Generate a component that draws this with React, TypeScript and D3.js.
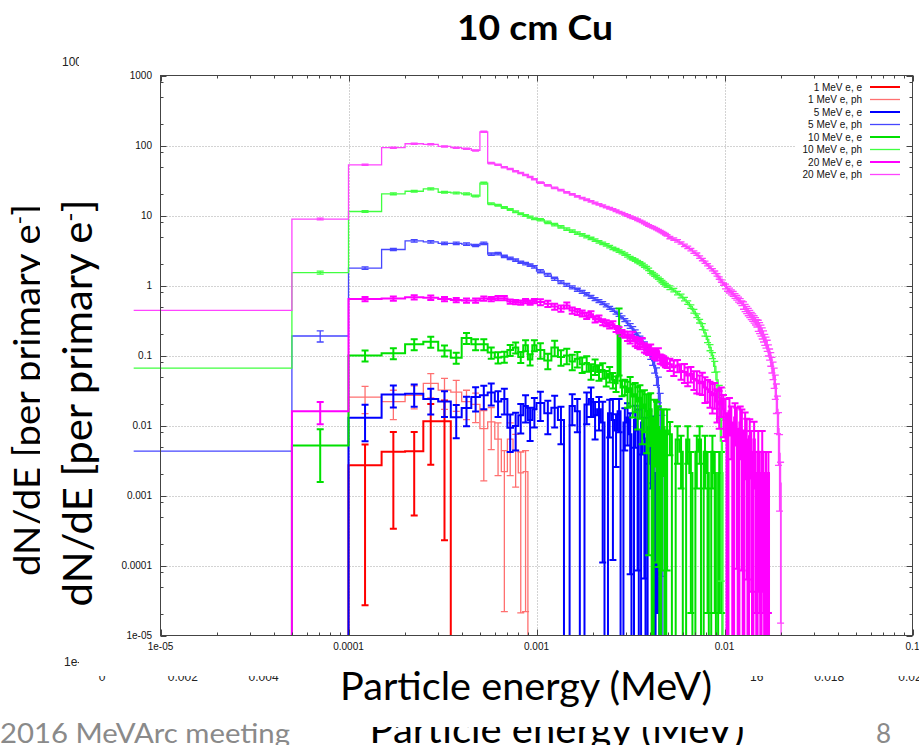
import React from 'react';
import * as d3 from 'd3';

// Histogram bin edges (MeV): 50 eV bins up to 1 keV, 100 eV up to 5 keV, 250 eV up to 20 keV
const EDGES: number[] = [
  ...d3.range(0, 20).map((i) => i * 5e-5),
  ...d3.range(0, 40).map((i) => 1e-3 + i * 1e-4),
  ...d3.range(0, 61).map((i) => 5e-3 + i * 2.5e-4),
];
// energy at which the step of the lowest (0 – 50 eV) bin is drawn from
const ZERO_EDGE_DRAWN = 7.2e-6;

// dN/dE per bin, and relative statistical error per bin
const E1_E = [0, 0, 0.0027, 0.0042, 0.0043, 0.0115, 0.0115];
const E1_E_ERR = [0, 0, 0.99, 0.92, 0.88, 0.76, 0.98];

const E1_PH = [0, 0, 0.0255, 0.022, 0.027, 0.04, 0.032, 0.03, 0.022, 0.02, 0.009, 0.0113, 0.0064, 0.0022, 0.0064, 0.0044, 0.0021, 0.0022];
const E1_PH_ERR = [0, 0, 0.42, 0.45, 0.36, 0.38, 0.47, 0.47, 0.45, 0.45, 0.82, 0.6, 0.7, 0.99, 0.7, 0.7, 0.99, 0.99];

const E5_E = [
  0, 0, 0.0129, 0.0277, 0.0285, 0.024, 0.022, 0.0131, 0.0178, 0.0255, 0.027, 0.0296, 0.022, 0.024, 0.0093, 0.0098, 0.014, 0.019, 0.012, 0.017,
  0.021, 0.015, 0.018, 0.012, 0, 0.019, 0.016, 0, 0.02, 0.024, 0.014, 0.017, 0.011, 0, 0.015, 0.012, 0.0085, 0.016, 0, 0.011,
  0.013, 0.0075, 0, 0.012, 0.0085, 0, 0.011, 0.0065, 0, 0.0095, 0.0042, 0.0075, 0, 0.0021, 0.0021,
];
const E5_E_ERR = [
  0, 0, 0.54, 0.35, 0.35, 0.4, 0.4, 0.5, 0.45, 0.38, 0.37, 0.35, 0.4, 0.4, 0.55, 0.55, 0.45, 0.42, 0.5, 0.45,
  0.45, 0.5, 0.48, 0.55, 0, 0.47, 0.5, 0, 0.48, 0.45, 0.55, 0.5, 0.99, 0, 0.55, 0.99, 0.7, 0.5, 0, 0.6,
  0.6, 0.99, 0, 0.6, 0.99, 0, 0.65, 0.99, 0, 0.7, 0.7, 0.8, 0, 0.99, 0.99,
];

const E5_PH = [
  0.0043, 0.19, 1.77, 3.27, 4.35, 4.2, 4.0, 4.0, 3.9, 3.73, 4.0, 2.8, 2.85, 2.6, 2.45, 2.3, 2.15, 2.05, 1.95, 1.85,
  1.6, 1.42, 1.25, 1.12, 1.02, 0.94, 0.87, 0.81, 0.75, 0.69, 0.64, 0.6, 0.56, 0.52, 0.48, 0.45, 0.41, 0.38, 0.35, 0.32,
  0.29, 0.265, 0.24, 0.215, 0.195, 0.175, 0.16, 0.145, 0.13, 0.115, 0.1, 0.085, 0.07, 0.052, 0.035, 0.018, 0.007,
];
const E5_PH_ERR = [
  0, 0.18, 0.04, 0.04, 0.04, 0.04, 0.04, 0.04, 0.04, 0.04, 0.04, 0.04, 0.04, 0.04, 0.04, 0.04, 0.04, 0.04, 0.04, 0.04,
  0.05, 0.05, 0.05, 0.05, 0.05, 0.05, 0.05, 0.05, 0.05, 0.05, 0.05, 0.05, 0.05, 0.05, 0.05, 0.05, 0.05, 0.05, 0.05, 0.05,
  0.08, 0.08, 0.08, 0.08, 0.08, 0.08, 0.08, 0.08, 0.08, 0.08, 0.12, 0.15, 0.2, 0.28, 0.4, 0.6, 0.99,
];

const E10_E = [
  0, 0.0052, 0.1, 0.108, 0.145, 0.157, 0.118, 0.093, 0.178, 0.145, 0.145, 0.11, 0.094, 0.096, 0.12, 0.13, 0.095, 0.14, 0.088, 0.14,
  0.12, 0.085, 0.13, 0.095, 0.1, 0.082, 0.09, 0.075, 0.078, 0.06, 0.07, 0.058, 0.062, 0.048, 0.055, 0.045, 0.04, 0.26, 0.035, 0.036,
  0.03, 0.034, 0.026, 0.028, 0.022, 0.025, 0.018, 0.02, 0.016, 0.014, 0.017, 0, 0.013, 0.011, 0.0095, 0, 0.0085, 0.0095, 0, 0.0085,
  0.0075, 0, 0.0063, 0.0042, 0, 0.0063, 0.0021, 0, 0.0042, 0.0063, 0, 0.0042, 0.0021, 0, 0.0042, 0.0021, 0, 0.0021, 0.0021,
];
const E10_E_ERR = [
  0, 0.7, 0.18, 0.18, 0.18, 0.18, 0.18, 0.18, 0.18, 0.18, 0.18, 0.18, 0.18, 0.18, 0.18, 0.18, 0.18, 0.18, 0.18, 0.18,
  0.25, 0.25, 0.25, 0.25, 0.25, 0.25, 0.25, 0.25, 0.25, 0.25, 0.25, 0.25, 0.25, 0.25, 0.25, 0.25, 0.25, 0.8, 0.25, 0.25,
  0.4, 0.45, 0.5, 0.45, 0.6, 0.5, 0.7, 0.6, 0.75, 0.99, 0.7, 0, 0.8, 0.99, 0.99, 0, 0.99, 0.8, 0, 0.99,
  0.5, 0, 0.55, 0.7, 0, 0.55, 0.99, 0, 0.7, 0.55, 0, 0.7, 0.99, 0, 0.7, 0.99, 0, 0.99, 0.99,
];

const E10_PH = [
  0.066, 1.53, 11.4, 20.4, 22.2, 24, 21.5, 21, 20.4, 19, 29, 14.7, 14, 13, 12.2, 11.3, 10.6, 10, 9.5, 9.0,
  8.7, 8.0, 7.4, 6.9, 6.4, 6.0, 5.6, 5.3, 5.0, 4.7, 4.45, 4.2, 4.0, 3.8, 3.6, 3.4, 3.25, 3.1, 2.95, 2.8,
  2.65, 2.5, 2.4, 2.3, 2.2, 2.1, 2.0, 1.9, 1.8, 1.7, 1.55, 1.48, 1.41, 1.34, 1.27, 1.2, 1.14, 1.08, 1.03, 0.98,
  0.93, 0.86, 0.78, 0.71, 0.64, 0.57, 0.5, 0.43, 0.37, 0.31, 0.26, 0.21, 0.17, 0.13, 0.1, 0.07, 0.045, 0.025, 0.006,
];
const E10_PH_ERR = [
  0, 0.05, 0.03, 0.03, 0.03, 0.03, 0.03, 0.03, 0.03, 0.03, 0.03, 0.03, 0.03, 0.03, 0.03, 0.03, 0.03, 0.03, 0.03, 0.03,
  0.04, 0.04, 0.04, 0.04, 0.04, 0.04, 0.04, 0.04, 0.04, 0.04, 0.04, 0.04, 0.04, 0.04, 0.04, 0.04, 0.04, 0.04, 0.04, 0.04,
  0.04, 0.04, 0.04, 0.04, 0.04, 0.04, 0.04, 0.04, 0.04, 0.04, 0.04, 0.04, 0.04, 0.04, 0.04, 0.04, 0.04, 0.04, 0.04, 0.04,
  0.06, 0.06, 0.06, 0.06, 0.06, 0.06, 0.06, 0.06, 0.06, 0.06, 0.1, 0.1, 0.1, 0.1, 0.1, 0.18, 0.3, 0.5, 0.99,
];

const E20_E = [
  0, 0.016, 0.64, 0.65, 0.68, 0.67, 0.64, 0.62, 0.61, 0.61, 0.65, 0.64, 0.66, 0.66, 0.59, 0.58, 0.57, 0.6, 0.57, 0.6,
  0.58, 0.55, 0.5, 0.47, 0.52, 0.44, 0.42, 0.4, 0.37, 0.39, 0.33, 0.34, 0.3, 0.29, 0.27, 0.28, 0.24, 0.23, 0.21, 0.2,
  0.19, 0.175, 0.19, 0.16, 0.15, 0.145, 0.155, 0.13, 0.125, 0.12, 0.125, 0.11, 0.105, 0.1, 0.11, 0.09, 0.088, 0.085, 0.08, 0.078,
  0.075, 0.068, 0.072, 0.06, 0.058, 0.052, 0.055, 0.046, 0.044, 0.04, 0.042, 0.035, 0.033, 0.03, 0.027, 0.029, 0.022, 0.02, 0.024, 0.017,
  0.015, 0, 0.016, 0.011, 0, 0.013, 0.009, 0, 0.011, 0.0085, 0, 0.0085, 0.0063, 0, 0.007, 0.0042, 0, 0.0063, 0.0021, 0,
  0.0042, 0.0021, 0, 0.0042, 0.0021, 0, 0.0021, 0, 0.0021,
];
const E20_E_ERR = [
  0, 0.35, 0.07, 0.07, 0.07, 0.07, 0.07, 0.07, 0.07, 0.07, 0.07, 0.07, 0.07, 0.07, 0.07, 0.07, 0.07, 0.07, 0.07, 0.07,
  0.1, 0.1, 0.1, 0.1, 0.1, 0.1, 0.1, 0.1, 0.1, 0.1, 0.1, 0.1, 0.1, 0.1, 0.1, 0.1, 0.1, 0.1, 0.1, 0.1,
  0.15, 0.15, 0.15, 0.15, 0.15, 0.15, 0.15, 0.15, 0.15, 0.15, 0.15, 0.15, 0.15, 0.15, 0.15, 0.15, 0.15, 0.15, 0.15, 0.15,
  0.2, 0.25, 0.2, 0.25, 0.3, 0.3, 0.25, 0.3, 0.35, 0.3, 0.35, 0.4, 0.35, 0.4, 0.45, 0.4, 0.5, 0.55, 0.45, 0.6,
  0.6, 0, 0.55, 0.7, 0, 0.6, 0.99, 0, 0.7, 0.99, 0, 0.8, 0.99, 0, 0.75, 0.99, 0, 0.8, 0.99, 0,
  0.99, 0.99, 0, 0.99, 0.99, 0, 0.99, 0, 0.99,
];

const E20_PH = [
  0.44, 8.9, 53, 93, 106, 104, 97, 93, 90, 85, 157, 56, 53, 49, 46, 43, 40.5, 38, 35.5, 33,
  29.5, 27, 24.8, 23, 21.4, 20, 18.8, 17.7, 16.8, 15.9, 15.1, 14.4, 13.8, 13.2, 12.7, 12.2, 11.7, 11.2, 10.8, 10.4,
  10.0, 9.6, 9.3, 9.0, 8.7, 8.4, 8.1, 7.8, 7.5, 7.2, 7.0, 6.8, 6.6, 6.4, 6.2, 6.0, 5.8, 5.6, 5.4, 5.2,
  4.85, 4.6, 4.35, 4.05, 3.75, 3.5, 3.25, 3.0, 2.8, 2.55, 2.35, 2.15, 1.98, 1.82, 1.68, 1.55, 1.42, 1.28, 1.16, 1.05,
  0.97, 0.9, 0.85, 0.8, 0.76, 0.71, 0.67, 0.63, 0.6, 0.56, 0.52, 0.48, 0.45, 0.42, 0.395, 0.37, 0.35, 0.33, 0.31, 0.29,
  0.27, 0.25, 0.23, 0.21, 0.19, 0.17, 0.155, 0.14, 0.12, 0.105, 0.09, 0.075, 0.063, 0.05, 0.038, 0.027, 0.017, 0.009, 0.004, 0.0015,
];
const E20_PH_ERR = [
  0, 0.03, 0.02, 0.02, 0.02, 0.02, 0.02, 0.02, 0.02, 0.02, 0.02, 0.02, 0.02, 0.02, 0.02, 0.02, 0.02, 0.02, 0.02, 0.02,
  0.025, 0.025, 0.025, 0.025, 0.025, 0.025, 0.025, 0.025, 0.025, 0.025, 0.025, 0.025, 0.025, 0.025, 0.025, 0.025, 0.025, 0.025, 0.025, 0.025,
  0.025, 0.025, 0.025, 0.025, 0.025, 0.025, 0.025, 0.025, 0.025, 0.025, 0.025, 0.025, 0.025, 0.025, 0.025, 0.025, 0.025, 0.025, 0.025, 0.025,
  0.04, 0.04, 0.04, 0.04, 0.04, 0.04, 0.04, 0.04, 0.04, 0.04, 0.04, 0.04, 0.04, 0.04, 0.04, 0.04, 0.04, 0.04, 0.04, 0.04,
  0.08, 0.08, 0.08, 0.08, 0.08, 0.08, 0.08, 0.08, 0.08, 0.08, 0.12, 0.12, 0.12, 0.12, 0.12, 0.12, 0.12, 0.12, 0.12, 0.12,
  0.18, 0.18, 0.18, 0.18, 0.18, 0.18, 0.18, 0.18, 0.18, 0.18, 0.22, 0.25, 0.28, 0.32, 0.38, 0.45, 0.55, 0.7, 0.85, 0.99,
];

const SERIES = [
  { label: '1 MeV e, e', vals: E1_E, rel: E1_E_ERR, color: '#ff0000', width: 2 },
  { label: '1 MeV e, ph', vals: E1_PH, rel: E1_PH_ERR, color: '#ff7070', width: 1.3 },
  { label: '5 MeV e, e', vals: E5_E, rel: E5_E_ERR, color: '#0000ff', width: 2 },
  { label: '5 MeV e, ph', vals: E5_PH, rel: E5_PH_ERR, color: '#4646ff', width: 1.3 },
  { label: '10 MeV e, e', vals: E10_E, rel: E10_E_ERR, color: '#00e000', width: 2 },
  { label: '10 MeV e, ph', vals: E10_PH, rel: E10_PH_ERR, color: '#40ff40', width: 1.3 },
  { label: '20 MeV e, e', vals: E20_E, rel: E20_E_ERR, color: '#ff00ff', width: 2 },
  { label: '20 MeV e, ph', vals: E20_PH, rel: E20_PH_ERR, color: '#ff44ff', width: 1.3 },
];

const X_TICKS = [1e-5, 1e-4, 1e-3, 1e-2, 1e-1];
const X_TICK_LABELS = ['1e-05', '0.0001', '0.001', '0.01', '0.1'];
const Y_TICKS = [1e-5, 1e-4, 1e-3, 1e-2, 1e-1, 1, 10, 100, 1000];
const Y_TICK_LABELS = ['1e-05', '0.0001', '0.001', '0.01', '0.1', '1', '10', '100', '1000'];
const X_MINOR_MULT = [2, 3, 4, 5, 6, 7, 8, 9];
const Y_MINOR_MULT = [2, 5, 8];

// linear-axis tick labels of the slide behind the plot that stay uncovered (label, tick index)
const BACK_X_TICKS: [string, number][] = [
  ['0', 0], ['0.002', 1], ['0.004', 2], ['0.016', 8], ['0.018', 9], ['0.02', 10],
];

const TITLE = '10 cm Cu';
const X_TITLE = 'Particle energy (MeV)';
const FOOTER = '2016 MeVArc meeting';
const PAGE_NO = '8';

const TICK_FONT = '"Liberation Sans", Arial, sans-serif';
const SLIDE_FONT = 'Lato, "Open Sans", sans-serif';

export default function App() {
  const x = d3.scaleLog().domain([1e-5, 0.1]).range([160.5, 912.5]);
  const y = d3.scaleLog().domain([1e-5, 1000]).range([635.5, 75.5]);
  const [yBot, yTop] = y.range();
  const [xL, xR] = x.range();
  const ex = (e: number) => (e > 0 ? x(e) : x(ZERO_EDGE_DRAWN));
  const yv = (v: number) => Math.max(yTop, Math.min(yBot, y(v)));

  const stepPath = (vals: number[]) => {
    const p = d3.path();
    let pen = false;
    for (let i = 0; i < vals.length; i++) {
      const v = vals[i];
      const x0 = ex(EDGES[i]);
      const x1 = ex(EDGES[i + 1]);
      if (v > 0) {
        const yy = yv(v);
        if (!pen) {
          if (i === 0) p.moveTo(x0, yy);
          else {
            p.moveTo(x0, yBot);
            p.lineTo(x0, yy);
          }
          pen = true;
        } else p.lineTo(x0, yy);
        p.lineTo(x1, yy);
      } else if (pen) {
        p.lineTo(x0, yBot);
        pen = false;
      }
    }
    if (pen) p.lineTo(ex(EDGES[vals.length]), yBot);
    return p.toString();
  };

  const barPath = (vals: number[], rel: number[]) => {
    const p = d3.path();
    const cap = 3.5;
    for (let i = 1; i < vals.length; i++) {
      const v = vals[i];
      const r = rel[i] ?? 0;
      if (!(v > 0) || !(r > 0)) continue;
      const xc = x(Math.sqrt(EDGES[i] * EDGES[i + 1]));
      const hi = v * (1 + r);
      const lo = v * (1 - r);
      const yHi = yv(hi);
      const yLo = lo >= 1e-5 ? yv(lo) : yBot;
      p.moveTo(xc, yHi);
      p.lineTo(xc, yLo);
      p.moveTo(xc - cap, yHi);
      p.lineTo(xc + cap, yHi);
      if (lo >= 1e-5) {
        p.moveTo(xc - cap, yLo);
        p.lineTo(xc + cap, yLo);
      }
    }
    return p.toString();
  };

  // ticks
  const xMinor: number[] = [];
  X_TICKS.slice(0, -1).forEach((d) => X_MINOR_MULT.forEach((m) => xMinor.push(d * m)));
  const yMinor: number[] = [];
  Y_TICKS.slice(0, -1).forEach((d) => Y_MINOR_MULT.forEach((m) => yMinor.push(d * m)));

  const tickPath = (() => {
    const p = d3.path();
    X_TICKS.forEach((t) => {
      const xx = Math.round(x(t)) + 0.5;
      p.moveTo(xx, yBot); p.lineTo(xx, yBot - 6);
      p.moveTo(xx, yTop); p.lineTo(xx, yTop + 6);
    });
    xMinor.forEach((t) => {
      const xx = Math.round(x(t)) + 0.5;
      p.moveTo(xx, yBot); p.lineTo(xx, yBot - 3);
      p.moveTo(xx, yTop); p.lineTo(xx, yTop + 3);
    });
    Y_TICKS.forEach((t) => {
      const yy = Math.round(y(t)) + 0.5;
      p.moveTo(xL, yy); p.lineTo(xL + 6, yy);
      p.moveTo(xR, yy); p.lineTo(xR - 6, yy);
    });
    yMinor.forEach((t) => {
      const yy = Math.round(y(t)) + 0.5;
      p.moveTo(xL, yy); p.lineTo(xL + 3, yy);
      p.moveTo(xR, yy); p.lineTo(xR - 3, yy);
    });
    return p.toString();
  })();

  const legendX = 862;
  const legendY0 = 87;
  const legendDy = 12.5;

  return (
    <div style={{ position: 'absolute', left: 0, top: 0 }}>
      <svg width={919} height={745} viewBox="0 0 919 745" style={{ display: 'block', background: '#fff' }}>
        {/* slide layer behind the plot */}
        <g fontFamily={TICK_FONT} fontSize={12} fill="#222">
          <text x={62} y={66}>1000</text>
          <text x={64} y={666}>1e-05</text>
          {BACK_X_TICKS.map(([t, i]) => (
            <text key={t} x={102 + i * 80.8} y={681} textAnchor="middle">{t}</text>
          ))}
        </g>
        <text
          transform="translate(40,390) rotate(-90)"
          textAnchor="middle"
          fontFamily={SLIDE_FONT}
          fontSize={36}
          textLength={372}
          lengthAdjust="spacingAndGlyphs"
          fill="#000"
        >
          dN/dE [per primary e<tspan baselineShift="super" fontSize={22}>-</tspan>]
        </text>
        <text
          x={557}
          y={743}
          textAnchor="middle"
          fontFamily={SLIDE_FONT}
          fontSize={38}
          textLength={375}
          lengthAdjust="spacingAndGlyphs"
          fill="#000"
        >
          {X_TITLE}
        </text>
        <text x={0} y={743} fontFamily={SLIDE_FONT} fontSize={26} textLength={290} lengthAdjust="spacingAndGlyphs" fill="#8a8a8a">
          {FOOTER}
        </text>
        <text x={876} y={743} fontFamily={SLIDE_FONT} fontSize={26} fill="#8a8a8a">{PAGE_NO}</text>

        {/* plot image */}
        <rect x={79} y={50} width={840} height={626} fill="#fff" />

        {/* grid */}
        <g stroke="#a6a6a6" strokeWidth={1} strokeDasharray="1,2" fill="none">
          {X_TICKS.slice(1, -1).map((t) => (
            <line key={t} x1={Math.round(x(t)) + 0.5} x2={Math.round(x(t)) + 0.5} y1={yTop} y2={yBot} />
          ))}
          {Y_TICKS.slice(1, -1).map((t) => (
            <line key={t} x1={xL} x2={xR} y1={Math.round(y(t)) + 0.5} y2={Math.round(y(t)) + 0.5} />
          ))}
        </g>

        {/* legend background */}
        <rect x={796} y={79} width={112} height={102} fill="#fff" />

        {/* histograms with error bars */}
        {SERIES.map((s) => (
          <g key={s.label} stroke={s.color} strokeWidth={s.width} fill="none">
            <path d={stepPath(s.vals)} strokeLinejoin="miter" />
            <path d={barPath(s.vals, s.rel)} />
          </g>
        ))}

        {/* frame and ticks */}
        <rect x={xL} y={yTop} width={xR - xL} height={yBot - yTop} fill="none" stroke="#444" strokeWidth={1} />
        <path d={tickPath} stroke="#444" strokeWidth={1} fill="none" />

        <g fontFamily={TICK_FONT} fontSize={10} fill="#111">
          {X_TICKS.map((t, i) => (
            <text key={t} x={x(t)} y={650} textAnchor="middle">{X_TICK_LABELS[i]}</text>
          ))}
          {Y_TICKS.map((t, i) => (
            <text key={t} x={152} y={y(t) + 3.5} textAnchor="end">{Y_TICK_LABELS[i]}</text>
          ))}
        </g>

        {/* legend */}
        <g fontFamily={TICK_FONT} fontSize={10} fill="#111">
          {SERIES.map((s, i) => {
            const yy = legendY0 + i * legendDy;
            return (
              <g key={s.label}>
                <text x={legendX} y={yy + 3.5} textAnchor="end">{s.label}</text>
                <line x1={870} x2={900} y1={yy} y2={yy} stroke={s.color} strokeWidth={s.width} />
              </g>
            );
          })}
        </g>

        {/* slide text boxes in front */}
        <rect x={40} y={150} width={39} height={500} fill="#fff" />
        <text
          transform="translate(92,403) rotate(-90)"
          textAnchor="middle"
          fontFamily={SLIDE_FONT}
          fontSize={40}
          textLength={407}
          lengthAdjust="spacingAndGlyphs"
          fill="#000"
        >
          dN/dE [per primary e<tspan baselineShift="super" fontSize={24}>-</tspan>]
        </text>
        <rect x={295} y={656} width={455} height={71} fill="#fff" />
        <text
          x={526}
          y={700}
          textAnchor="middle"
          fontFamily={SLIDE_FONT}
          fontSize={38}
          textLength={372}
          lengthAdjust="spacingAndGlyphs"
          fill="#000"
        >
          {X_TITLE}
        </text>
        <text
          x={535}
          y={40}
          textAnchor="middle"
          fontFamily={SLIDE_FONT}
          fontWeight="bold"
          fontSize={34}
          textLength={156}
          lengthAdjust="spacingAndGlyphs"
          fill="#000"
        >
          {TITLE}
        </text>
      </svg>
    </div>
  );
}
